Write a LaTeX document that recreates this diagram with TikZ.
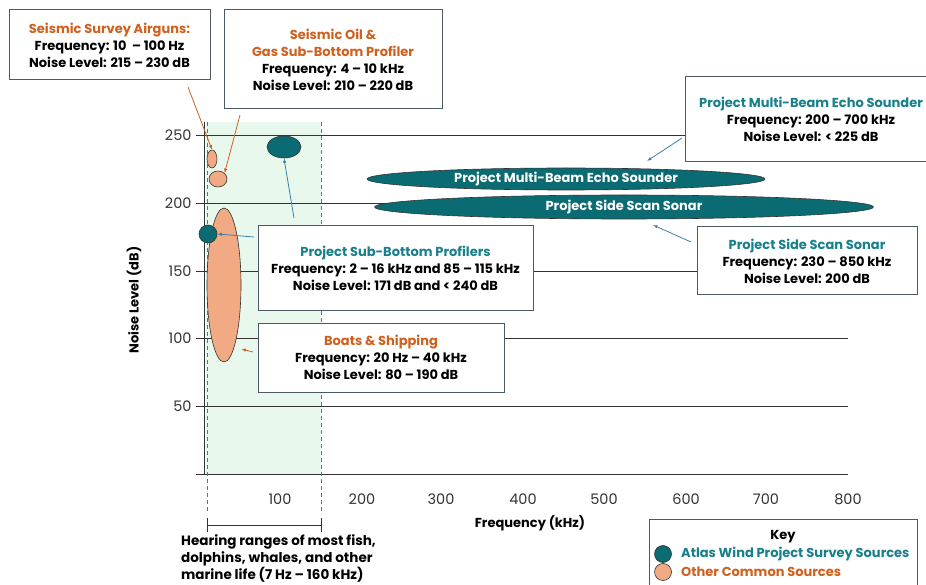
\documentclass[tikz,border=0pt]{standalone}
\usepackage{fontspec}
\setmainfont{Poppins}
\usetikzlibrary{shapes.geometric,arrows.meta,calc}
\definecolor{teal1}{HTML}{0B6B72}
\definecolor{tealtxt}{HTML}{17808A}
\definecolor{orgtxt}{HTML}{D0601E}
\definecolor{orgfill}{HTML}{F2AA84}
\definecolor{boxline}{HTML}{4A5A66}
\definecolor{hearfill}{HTML}{E8F8EC}
\definecolor{dashc}{HTML}{3C80A8}
\definecolor{gridc}{HTML}{333333}
\begin{document}
\begin{tikzpicture}[x=1pt,y=-1pt,
  txt/.style={font=\bfseries\fontsize{13}{17}\selectfont, text=black},
  infobox/.style={draw=boxline, line width=1pt, fill=white, align=center, inner sep=0pt, font=\bfseries\fontsize{13}{17}\selectfont},
  tealsrc/.style={ellipse, draw=gridc, line width=0.6pt, fill=teal1, inner sep=0pt},
  orgsrc/.style={ellipse, draw=gridc, line width=0.6pt, fill=orgfill, inner sep=0pt},
  arrT/.style={draw=dashc, line width=0.8pt, -{Latex[length=4.5pt,width=3.5pt]}},
  arrO/.style={draw=orgtxt, line width=0.8pt, -{Latex[length=4.5pt,width=3.5pt]}},
  grid/.style={draw=gridc, line width=0.9pt},
  tick/.style={font=\fontsize{14.5}{16}\selectfont, text=gridc},
]
\useasboundingbox (0,0) rectangle (926,585);
% hearing range shading
\fill[hearfill] (206,122) rectangle (321,474);
% gridlines
\foreach \yy/\lab in {135/250,203/200,271/150,338/100,406/50} {
  \draw[grid] (196,\yy) -- (848,\yy);
  \node[tick, anchor=east] (yl\lab) at (195,\yy) {\lab};
}
\draw[grid] (196,474) -- (848,474);
\draw[grid] (204,122) -- (204,474);
\foreach \xx/\lab in {280/100,362/200,441/300,523/400,604/500,686/600,766/700,848/800} {
  \node[tick] (xl\lab) at (\xx,499) {\lab};
}
% dashed hearing bounds
\draw[dashc, line width=0.9pt, dash pattern=on 4pt off 3pt] (207,122) -- (207,512);
\draw[dashc, line width=0.9pt, dash pattern=on 4pt off 3pt] (321,122) -- (321,512);
% bracket
\draw[gridc, line width=1pt] (207,518) -- (207,532) (207,525) -- (321,525) (321,518) -- (321,532);
\node[txt, align=left, anchor=north west, inner sep=0pt, font=\bfseries\fontsize{13.5}{17}\selectfont] (hear) at (181,534) {Hearing ranges of most fish,\\dolphins, whales, and other\\marine life (7 Hz – 160 kHz)};
% axis labels
\node[txt] (xlabel) at (530,523) {Frequency (kHz)};
\node[txt, rotate=90] (ylabel) at (134,300) {Noise Level (dB)};
% sources
\node[orgsrc, minimum width=34, minimum height=154] (boats) at (224,285) {};
\node[orgsrc, minimum width=10, minimum height=18] (airg) at (212,159) {};
\node[orgsrc, minimum width=18, minimum height=16] (oilg) at (218,179) {};
\node[tealsrc, minimum width=34, minimum height=22] (sbp2) at (284,147) {};
\node[tealsrc, circle, minimum size=18] (sbp1) at (208,234) {};
\node[tealsrc, minimum width=398, minimum height=22, text=white, font=\bfseries\fontsize{13}{15}\selectfont] (mbes) at (566,179) {Project Multi-Beam Echo Sounder};
\node[tealsrc, minimum width=499, minimum height=24, text=white, font=\bfseries\fontsize{13}{15}\selectfont] (sss) at (624,207) {Project Side Scan Sonar};
% info boxes
\node[infobox, minimum width=201, minimum height=70] (bair) at (109.5,45) {\textcolor{orgtxt}{Seismic Survey Airguns:}\\Frequency: 10 \ – 100 Hz\\Noise Level: 215 – 230 dB};
\node[infobox, minimum width=218, minimum height=99] (boil) at (333,59.5) {\textcolor{orgtxt}{Seismic Oil \&}\\\textcolor{orgtxt}{Gas Sub-Bottom Profiler}\\Frequency: 4 – 10 kHz\\Noise Level: 210 – 220 dB};
\node[infobox, minimum width=252, minimum height=85] (bmbes) at (811,119) {\textcolor{tealtxt}{Project Multi-Beam Echo Sounder}\\Frequency: 200 – 700 kHz\\Noise Level: < 225 dB};
\node[infobox, minimum width=220, minimum height=68] (bsss) at (807,261) {\textcolor{tealtxt}{Project Side Scan Sonar}\\Frequency: 230 – 850 kHz\\Noise Level: 200 dB};
\node[infobox, minimum width=275, minimum height=84] (bsbp) at (395.5,268) {\textcolor{tealtxt}{Project Sub-Bottom Profilers}\\Frequency: 2 – 16 kHz and 85 – 115 kHz\\Noise Level: 171 dB and < 240 dB};
\node[infobox, minimum width=246, minimum height=69] (bboat) at (381,357.5) {\textcolor{orgtxt}{Boats \& Shipping}\\Frequency: 20 Hz – 40 kHz\\Noise Level: 80 – 190 dB};
% key
\node[infobox, draw=boxline, minimum width=268, minimum height=80, anchor=north west] (key) at (649,519) {};
\node[txt] (keyt) at (783,537) {Key};
\node[tealsrc, circle, minimum size=17] (k1) at (663,554) {};
\node[orgsrc, circle, minimum size=17] (k2) at (663,572) {};
\node[txt, text=tealtxt, anchor=west, inner sep=0pt] (k1t) at (681,554) {Atlas Wind Project Survey Sources};
\node[txt, text=orgtxt, anchor=west, inner sep=0pt] (k2t) at (681,572) {Other Common Sources};
% connectors
\coordinate (a1) at (188,87);
\draw[arrO] (a1) -- (airg.north);
\coordinate (a2) at (240,115);
\draw[arrO] (a2) -- (oilg.north east);
\coordinate (a3) at (682,138);
\coordinate (a3e) at (647,161);
\draw[arrT] (a3) -- (a3e);
\coordinate (a4) at (691,242);
\coordinate (a4e) at (653,225);
\draw[arrT] (a4) -- (a4e);
\coordinate (a5) at (294,218);
\draw[arrT] (a5) -- (sbp2.south);
\coordinate (a6) at (254,237);
\draw[arrT] (a6) -- (sbp1.east);
\coordinate (a7) at (253,352);
\draw[arrO] (a7) -- (boats.east |- 0,349);
\end{tikzpicture}
\end{document}
